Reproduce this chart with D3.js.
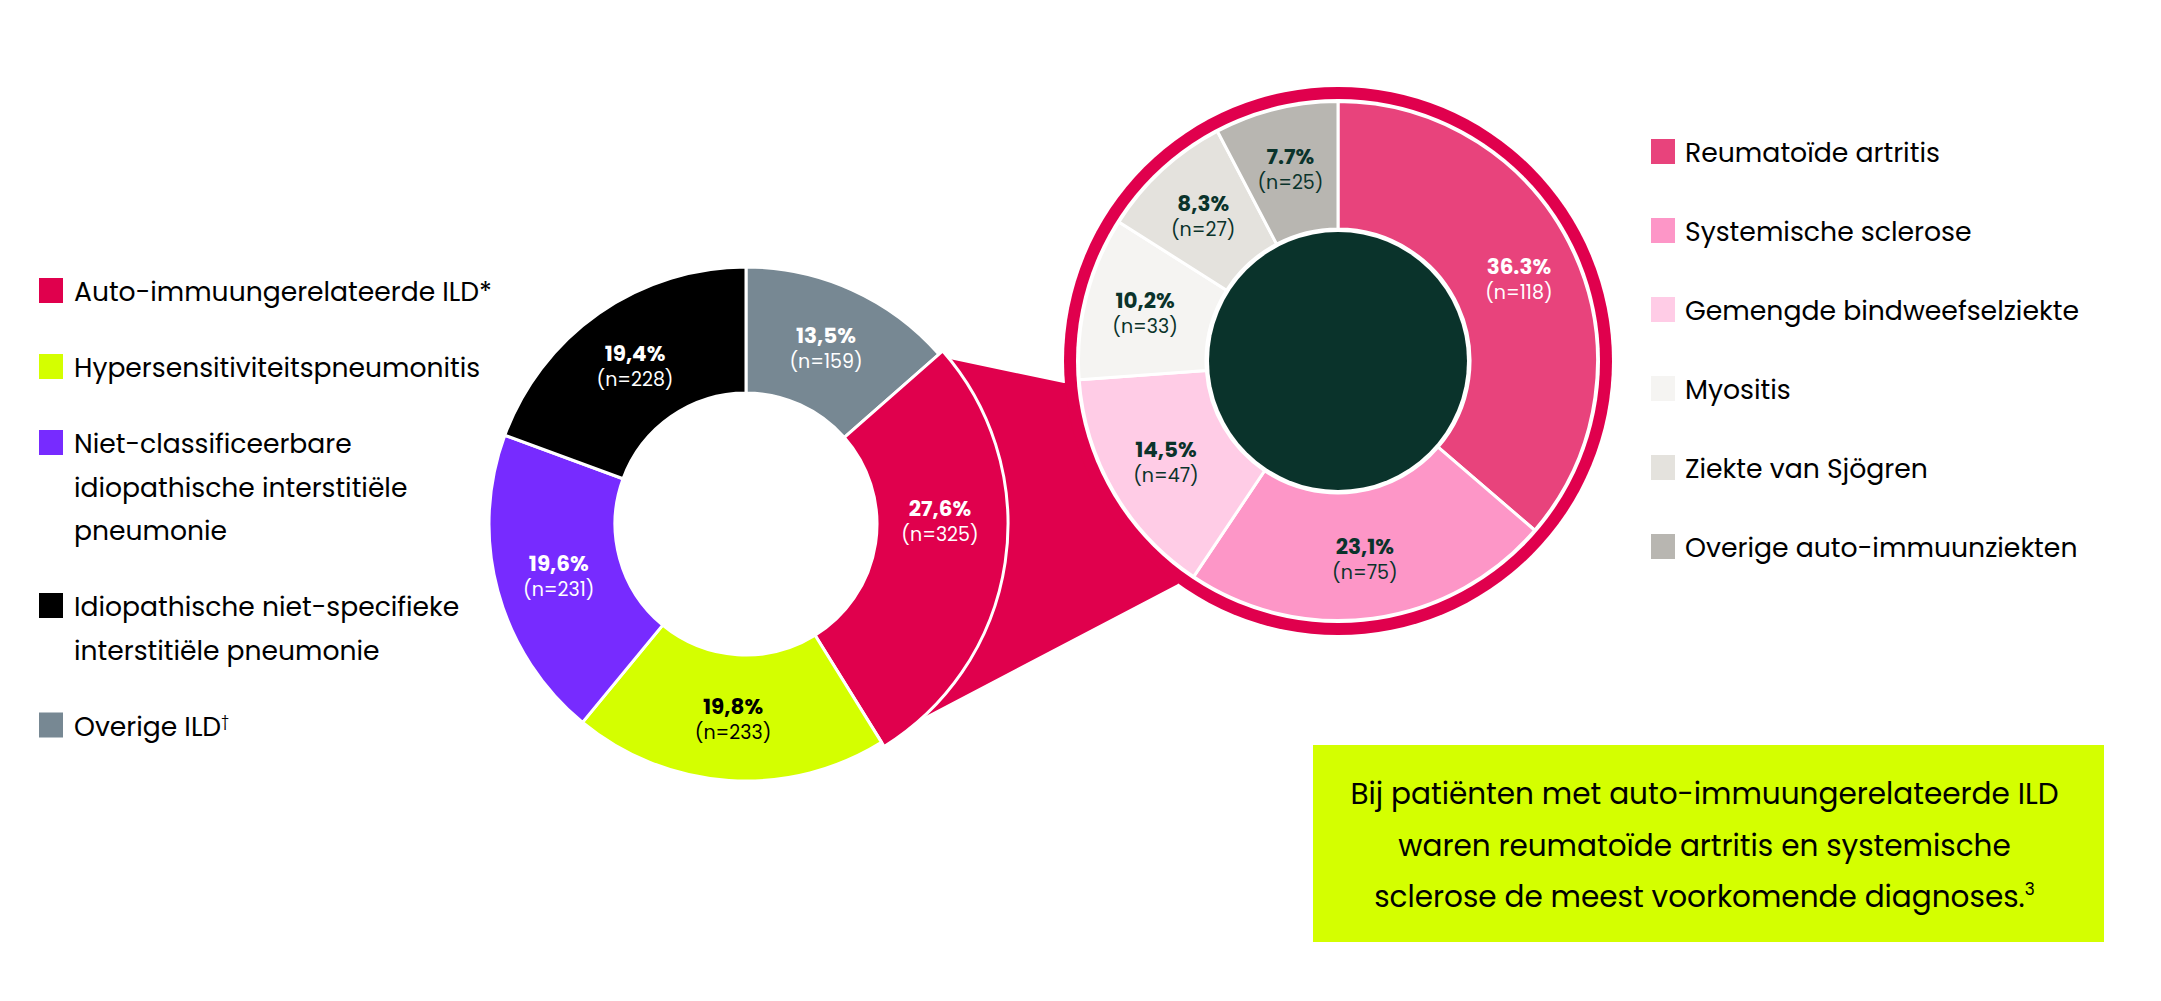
<!DOCTYPE html>
<meta charset="utf-8">
<style>
body { margin: 0; background: #fff; }
svg { display: block; font-family: "Poppins", "Open Sans", sans-serif; }
.pct { font-weight: 700; }
</style>
<body></body>
<script src="https://cdn.jsdelivr.net/npm/d3@7"></script>
<script>
// ---- data: ILD types (left donut, clockwise from 12 o'clock)
var ildNames  = ["Overige ILD", "Auto-immuungerelateerde ILD", "Hypersensitiviteitspneumonitis",
                 "Niet-classificeerbare idiopathische interstitiële pneumonie",
                 "Idiopathische niet-specifieke interstitiële pneumonie"];
var ildCounts = [159, 325, 233, 231, 228];
var ildPct    = ["13,5%", "27,6%", "19,8%", "19,6%", "19,4%"];
var ildColors = ["#778893", "#e0004d", "#d4ff00", "#772bff", "#000000"];
var ildText   = ["#ffffff", "#ffffff", "#000000", "#ffffff", "#ffffff"];

// legend order + line breaks as printed
var ildLegendOrder = [1, 2, 3, 4, 0];
var ildLegendLines = [
  ["Auto-immuungerelateerde ILD*"],
  ["Hypersensitiviteitspneumonitis"],
  ["Niet-classificeerbare", "idiopathische interstitiële", "pneumonie"],
  ["Idiopathische niet-specifieke", "interstitiële pneumonie"],
  ["Overige ILD"]
];
var ildLegendSup = ["", "", "", "", "†"];

// ---- data: auto-immune ILD breakdown (right donut)
var aiNames  = ["Reumatoïde artritis", "Systemische sclerose", "Gemengde bindweefselziekte",
                "Myositis", "Ziekte van Sjögren", "Overige auto-immuunziekten"];
var aiCounts = [118, 75, 47, 33, 27, 25];
var aiPct    = ["36.3%", "23,1%", "14,5%", "10,2%", "8,3%", "7.7%"];
var aiColors = ["#e8437c", "#fd96c7", "#ffcce6", "#f5f4f2", "#e4e2dd", "#b8b6b1"];
var aiText   = ["#ffffff", "#0a332b", "#0a332b", "#0a332b", "#0a332b", "#0a332b"];

var calloutLines = ["Bij patiënten met auto-immuungerelateerde ILD",
                    "waren reumatoïde artritis en systemische",
                    "sclerose de meest voorkomende diagnoses."];
var calloutSup = "3";

// ---- layout
var W = 2161, H = 1001;
var L = {cx: 746, cy: 524, rIn: 131, rOut: 257, rPop: 262, rLab: 194};
var R = {cx: 1338, cy: 361, ring: 274, gap: 262, rOut: 259.5, rIn: 132, core: 129, rLab: 199};
var explodeIdx = 1;  // auto-immune slice feeds the right donut

var svg = d3.select("body").append("svg")
    .attr("width", W).attr("height", H);

function polar(c, r, a) {  // a: degrees clockwise from 12 o'clock
  var t = a * Math.PI / 180;
  return [c.cx + r * Math.sin(t), c.cy - r * Math.cos(t)];
}

var pie = d3.pie().sort(null).value(function(d) { return d; });
var leftArcs = pie(ildCounts);
var rightArcs = pie(aiCounts);

// funnel behind both donuts
var ex = leftArcs[explodeIdx];
var deg = 180 / Math.PI;
var pA = polar(L, L.rPop, ex.startAngle * deg + 2.3),
    pD = polar(L, L.rPop, ex.endAngle * deg - 10.4),
    pB = polar(R, R.ring + 1, 265.4),
    pC = polar(R, R.ring + 1, 215.7);
svg.append("path")
    .attr("d", d3.line()([pA, pB, [R.cx, R.cy], pC, pD]) + "Z")
    .attr("fill", ildColors[explodeIdx]);

// left donut
var gL = svg.append("g").attr("transform", "translate(" + L.cx + "," + L.cy + ")");
var arcL = d3.arc().innerRadius(L.rIn)
    .outerRadius(function(d) { return d.index === explodeIdx ? L.rPop : L.rOut; });
gL.selectAll("path.slice").data(leftArcs).enter().append("path")
    .attr("class", "slice")
    .attr("d", arcL)
    .attr("fill", function(d, i) { return ildColors[i]; })
    .attr("stroke", "#fff").attr("stroke-width", 3).attr("stroke-linejoin", "round");

var labArcL = d3.arc().innerRadius(L.rLab).outerRadius(L.rLab);
var labL = gL.selectAll("g.lab").data(leftArcs).enter().append("g")
    .attr("class", "lab")
    .attr("transform", function(d) {
      var p = d.index === explodeIdx
        ? labArcL.centroid({startAngle: Math.PI / 2 - 0.02, endAngle: Math.PI / 2 - 0.02})
        : labArcL.centroid(d);
      return "translate(" + p + ")";
    })
    .attr("fill", function(d, i) { return ildText[i]; })
    .attr("text-anchor", "middle");
labL.append("text").attr("class", "pct").attr("y", -4).style("font-size", "21.5px")
    .text(function(d, i) { return ildPct[i]; });
labL.append("text").attr("y", 21).style("font-size", "19px")
    .text(function(d, i) { return "(n=" + ildCounts[i] + ")"; });

// right donut
var gR = svg.append("g").attr("transform", "translate(" + R.cx + "," + R.cy + ")");
gR.append("circle").attr("r", R.ring).attr("fill", ildColors[explodeIdx]);
gR.append("circle").attr("r", R.gap).attr("fill", "#fff");
var arcR = d3.arc().innerRadius(R.rIn).outerRadius(R.rOut);
gR.selectAll("path.slice").data(rightArcs).enter().append("path")
    .attr("class", "slice")
    .attr("d", arcR)
    .attr("fill", function(d, i) { return aiColors[i]; })
    .attr("stroke", "#fff").attr("stroke-width", 3).attr("stroke-linejoin", "round");
gR.append("circle").attr("r", R.core).attr("fill", "#0a332b");

var labArcR = d3.arc().innerRadius(R.rLab).outerRadius(R.rLab);
var labR = gR.selectAll("g.lab").data(rightArcs).enter().append("g")
    .attr("class", "lab")
    .attr("transform", function(d) { return "translate(" + labArcR.centroid(d) + ")"; })
    .attr("fill", function(d, i) { return aiText[i]; })
    .attr("text-anchor", "middle");
labR.append("text").attr("class", "pct").attr("y", -4).style("font-size", "21.5px")
    .text(function(d, i) { return aiPct[i]; });
labR.append("text").attr("y", 21).style("font-size", "19px")
    .text(function(d, i) { return "(n=" + aiCounts[i] + ")"; });

// left legend
var lineH = 43.5, rowGap = 76, y = 301;
ildLegendOrder.forEach(function(idx, k) {
  var g = svg.append("g").attr("transform", "translate(0," + y + ")");
  g.append("rect").attr("x", 39).attr("y", -23).attr("width", 24).attr("height", 25)
      .attr("fill", ildColors[idx]);
  var lines = ildLegendLines[k];
  lines.forEach(function(t, j) {
    var tx = g.append("text").attr("x", 74).attr("y", j * lineH)
        .style("font-size", "26.6px").attr("fill", "#000").text(t);
    if (j === lines.length - 1 && ildLegendSup[k]) {
      tx.append("tspan").attr("dy", -10).style("font-size", "14px").text(ildLegendSup[k]);
    }
  });
  y += (lines.length - 1) * lineH + rowGap;
});

// right legend
var rowStep = 79;
aiNames.forEach(function(name, i) {
  var g = svg.append("g").attr("transform", "translate(0," + (162 + i * rowStep) + ")");
  g.append("rect").attr("x", 1651).attr("y", -23).attr("width", 24).attr("height", 25)
      .attr("fill", aiColors[i]);
  g.append("text").attr("x", 1685).attr("y", 0)
      .style("font-size", "26.7px").attr("fill", "#000").text(name);
});

// callout box
var box = {x: 1313, y: 745, w: 791, h: 197};
svg.append("rect").attr("x", box.x).attr("y", box.y).attr("width", box.w).attr("height", box.h)
    .attr("fill", "#d4ff00");
calloutLines.forEach(function(t, j) {
  var tx = svg.append("text").attr("x", box.x + box.w / 2 - 4).attr("y", 804 + j * 51.5)
      .attr("text-anchor", "middle").style("font-size", "29.5px").attr("fill", "#000").text(t);
  if (j === calloutLines.length - 1) {
    tx.append("tspan").attr("dy", -12).style("font-size", "17px").text(calloutSup);
  }
});
</script>
